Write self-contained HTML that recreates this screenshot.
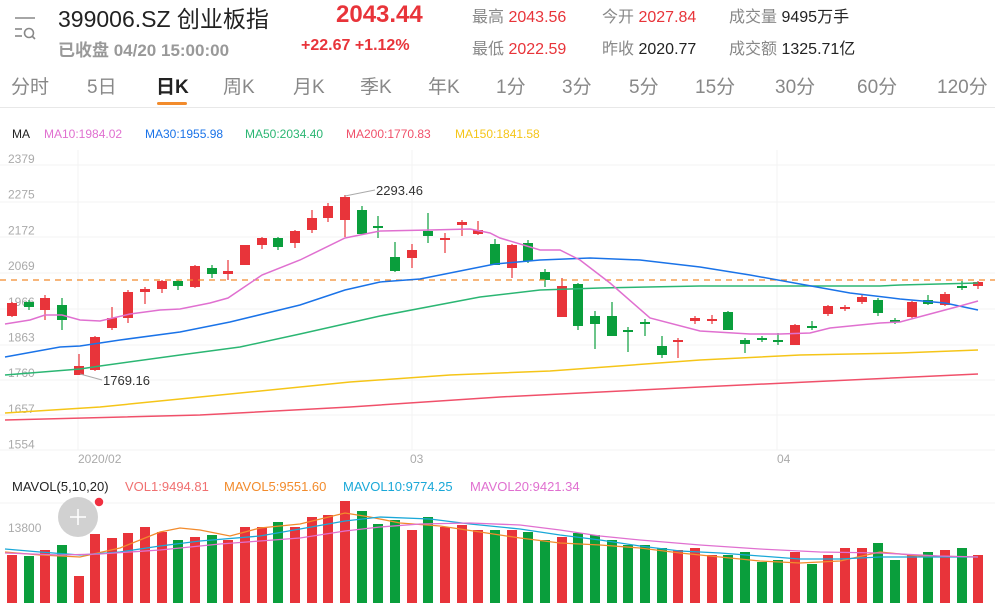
<!DOCTYPE html>
<html><head><meta charset="utf-8"><style>
body{margin:0;width:995px;height:608px;overflow:hidden;background:#fff;font-family:"Liberation Sans","Noto Sans CJK SC",sans-serif;position:relative}
.a{position:absolute;white-space:nowrap}
.g{color:#888}.r{color:#e8343a}.k{color:#222}
</style></head><body>
<svg class="a" style="left:12px;top:16px" width="26" height="26" viewBox="0 0 26 26"><g stroke="#888" stroke-width="1.6" fill="none"><line x1="3" y1="2" x2="23" y2="2"/><line x1="3" y1="13" x2="10" y2="13"/><line x1="3" y1="20" x2="10" y2="20"/><circle cx="17" cy="17" r="4.5"/><line x1="20" y1="20" x2="23" y2="23"/></g></svg>
<div class="a k" style="left:58px;top:0px;font-size:23px">399006.SZ 创业板指</div>
<div class="a r" style="left:336px;top:1px;font-size:24px;font-weight:bold">2043.44</div>
<div class="a g" style="left:58px;top:36px;font-size:17px;font-weight:bold;color:#999">已收盘 04/20 15:00:00</div>
<div class="a r" style="left:301px;top:37px;font-size:16px;font-weight:bold">+22.67 +1.12%</div>
<div class="a" style="left:472px;top:3px;font-size:16px"><span class="g">最高</span> <span class="r">2043.56</span></div>
<div class="a" style="left:602px;top:3px;font-size:16px"><span class="g">今开</span> <span class="r">2027.84</span></div>
<div class="a" style="left:729px;top:3px;font-size:16px"><span class="g">成交量</span> <span class="k">9495万手</span></div>
<div class="a" style="left:472px;top:35px;font-size:16px"><span class="g">最低</span> <span class="r">2022.59</span></div>
<div class="a" style="left:602px;top:35px;font-size:16px"><span class="g">昨收</span> <span class="k">2020.77</span></div>
<div class="a" style="left:729px;top:35px;font-size:16px"><span class="g">成交额</span> <span class="k">1325.71亿</span></div>
<div class="a g" style="top:72px;left:0;font-size:19px;width:995px;height:30px">
<span class="a" style="left:11px">分时</span><span class="a" style="left:87px">5日</span><span class="a k" style="left:156px;font-weight:bold">日K</span><span class="a" style="left:223px">周K</span><span class="a" style="left:293px">月K</span><span class="a" style="left:360px">季K</span><span class="a" style="left:428px">年K</span><span class="a" style="left:496px">1分</span><span class="a" style="left:562px">3分</span><span class="a" style="left:629px">5分</span><span class="a" style="left:695px">15分</span><span class="a" style="left:775px">30分</span><span class="a" style="left:857px">60分</span><span class="a" style="left:937px">120分</span></div>
<div class="a" style="left:157px;top:102px;width:30px;height:3px;background:#f28b2c;border-radius:2px"></div>
<div class="a" style="left:0;top:107px;width:995px;height:1px;background:#e8e8e8"></div>
<div class="a" style="left:12px;top:127px;font-size:12px"><span class="k">MA</span></div>
<div class="a" style="left:44px;top:127px;font-size:12px;color:#e070d0">MA10:1984.02</div>
<div class="a" style="left:145px;top:127px;font-size:12px;color:#1a73e8">MA30:1955.98</div>
<div class="a" style="left:245px;top:127px;font-size:12px;color:#2bb673">MA50:2034.40</div>
<div class="a" style="left:346px;top:127px;font-size:12px;color:#f0506a">MA200:1770.83</div>
<div class="a" style="left:455px;top:127px;font-size:12px;color:#f5c518">MA150:1841.58</div>
<div class="a" style="left:12px;top:479px;font-size:13px"><span class="k">MAVOL(5,10,20)</span></div>
<div class="a" style="left:125px;top:479px;font-size:13px;color:#f07070">VOL1:9494.81</div>
<div class="a" style="left:224px;top:479px;font-size:13px;color:#f28b2c">MAVOL5:9551.60</div>
<div class="a" style="left:343px;top:479px;font-size:13px;color:#1aa8d8">MAVOL10:9774.25</div>
<div class="a" style="left:470px;top:479px;font-size:13px;color:#e070d0">MAVOL20:9421.34</div>
<svg id="s" class="a" style="left:0;top:0" width="995" height="608"></svg>
<script>
var s=document.getElementById('s'),h='';
function L(x1,y1,x2,y2,c,w,d){h+='<line x1="'+x1+'" y1="'+y1+'" x2="'+x2+'" y2="'+y2+'" stroke="'+c+'" stroke-width="'+(w||1)+'"'+(d?' stroke-dasharray="'+d+'"':'')+'/>';}
function P(pts,c,w){h+='<polyline fill="none" stroke="'+c+'" stroke-width="'+(w||1.5)+'" points="'+pts.map(function(p){return p.join(',')}).join(' ')+'"/>';}
function T(x,y,t,c,sz){h+='<text x="'+x+'" y="'+y+'" fill="'+c+'" font-size="'+(sz||12)+'" font-family="Liberation Sans,sans-serif">'+t+'</text>';}
[165,202,237,273,309,345,380,415,450].forEach(function(y){L(0,y,995,y,'#f3f3f3')});
[78,412,777].forEach(function(x){L(x,150,x,450,'#f3f3f3')});
L(0,503,995,503,'#f3f3f3');
var labs=['2379','2275','2172','2069','1966','1863','1760','1657','1554'];
labs.forEach(function(t,i){T(8,163+i*35.7,t,'#aaa',12)});
T(78,463,'2020/02','#aaa',12);T(410,463,'03','#aaa',12);T(777,463,'04','#aaa',12);
T(8,532,'13800','#aaa',12);
var R='#e8343a',G='#0a9e3c';
var C=[[12,'r',303,316,302,317],[29,'g',302,307,300,310],[45,'r',298,310,295,320],[62,'g',305,320,298,330],[79,'r',366,375,354,375],[95,'r',337,370,336,371],[112,'r',318,328,307,330],[128,'r',292,318,290,323],[145,'r',289,292,287,304],[162,'r',281,289,280,293],[178,'g',281,286,280,290],[195,'r',266,287,265,288],[212,'g',268,274,265,278],[228,'r',271,274,260,280],[245,'r',245,265,245,265],[262,'r',238,245,237,249],[278,'g',238,247,237,250],[295,'r',231,243,230,248],[312,'r',218,230,210,233],[328,'r',206,218,203,222],[345,'r',197,220,195,237],[362,'g',210,234,206,235],[378,'g',226,228,216,238],[395,'g',257,271,242,272],[412,'r',250,258,244,268],[428,'g',231,236,213,243],[445,'r',238,240,233,253],[462,'r',222,225,220,236],[478,'r',230,234,221,235],[495,'g',244,265,239,265],[512,'r',245,268,244,278],[528,'g',243,261,240,263],[545,'g',272,280,269,287],[562,'r',286,317,278,317],[578,'g',284,326,283,330],[595,'g',316,324,311,349],[612,'g',316,336,302,336],[628,'g',330,332,327,352],[645,'g',322,324,319,336],[662,'g',346,355,336,358],[678,'r',340,342,338,358],[695,'r',318,321,316,324],[712,'r',319,321,315,324],[728,'g',312,330,311,330],[745,'g',340,344,338,353],[762,'g',338,340,336,342],[778,'g',340,342,333,345],[795,'r',325,345,324,345],[812,'g',326,327,321,330],[828,'r',306,314,305,316],[845,'r',307,309,305,311],[862,'r',297,302,295,304],[878,'g',300,313,298,316],[895,'g',320,321,318,324],[912,'r',302,317,301,318],[928,'g',300,304,295,305],[945,'r',294,305,292,306],[962,'g',286,288,281,290],[978,'r',282,286,281,289]];
var V=[555,556,550,545,576,534,538,533,527,532,540,537,535,540,527,527,522,527,517,515,501,511,524,520,530,517,527,525,530,530,530,532,540,537,533,535,540,545,545,548,550,548,555,555,552,562,560,552,564,555,548,548,543,560,555,552,550,548,555];
C.forEach(function(c,i){var col=c[1]=='r'?R:G;L(c[0],c[4],c[0],c[5],col,1.2);h+='<rect x="'+(c[0]-5)+'" y="'+c[2]+'" width="10" height="'+Math.max(2,c[3]-c[2])+'" fill="'+col+'"/>';
h+='<rect x="'+(c[0]-5)+'" y="'+V[i]+'" width="10" height="'+(603-V[i])+'" fill="'+col+'"/>';});
L(0,280,995,280,'#f28b2c',1.3,'6,5');
P([[5,413],[100,407],[200,397],[350,382],[450,375],[550,371],[700,360],[800,355],[900,353],[978,350]],'#f5c518');
P([[5,420],[200,415],[350,407],[500,397],[700,387],[978,374]],'#f0506a');
P([[5,375],[80,369],[100,366],[180,355],[240,347],[300,334],[380,316],[480,297],[540,290],[600,288],[700,286],[800,286],[880,286],[900,285],[978,283]],'#2bb673');
P([[5,357],[60,347],[80,346],[120,340],[180,332],[230,322],[300,305],[345,290],[380,282],[420,279],[495,264],[540,260],[590,258],[640,260],[700,267],[750,275],[800,284],[850,293],[900,299],[945,303],[978,310]],'#1a73e8');
P([[5,324],[30,320],[45,315],[62,315],[80,320],[100,321],[130,314],[160,310],[180,309],[210,303],[228,298],[262,275],[300,260],[345,238],[380,231],[430,230],[470,229],[490,233],[500,238],[540,250],[560,250],[580,260],[610,283],[650,318],[700,331],[750,334],[780,334],[810,333],[830,328],[880,323],[900,322],[930,314],[960,306],[978,301]],'#e070d0');
L(345,196,375,190,'#aaa');T(376,195,'2293.46','#333',13);
L(80,374,102,380,'#aaa');T(103,385,'1769.16','#333',13);
P([[5,552],[40,555],[80,557],[120,548],[160,532],[180,528],[200,530],[230,536],[260,528],[300,524],[345,513],[370,517],[400,523],[440,526],[480,532],[520,538],[560,543],[600,545],[640,548],[680,553],[720,557],[760,561],[800,563],[840,561],[880,552],[920,556],[978,557]],'#f28b2c',1.3);
P([[5,549],[40,552],[80,555],[120,552],[160,546],[200,541],[260,536],[300,529],[345,521],[380,517],[430,519],[470,524],[520,529],[560,535],[600,540],[640,546],[680,551],[720,553],[760,556],[800,559],[840,559],[880,557],[920,557],[978,557]],'#1aa8d8',1.3);
P([[5,553],[60,555],[100,554],[160,550],[220,544],[260,541],[300,538],[345,531],[380,527],[420,524],[470,523],[520,525],[560,530],[600,536],[640,540],[700,545],[760,549],[820,552],[880,553],[940,556],[978,557]],'#e070d0',1.3);
h+='<circle cx="78" cy="517" r="20" fill="#cfcfcf" opacity="0.95"/><line x1="70" y1="517" x2="86" y2="517" stroke="#fff" stroke-width="1.5"/><line x1="78" y1="509" x2="78" y2="525" stroke="#fff" stroke-width="1.5"/><circle cx="99" cy="502" r="5" fill="#f03040" stroke="#fff" stroke-width="1.5"/>';
s.innerHTML=h;
</script>
</body></html>
